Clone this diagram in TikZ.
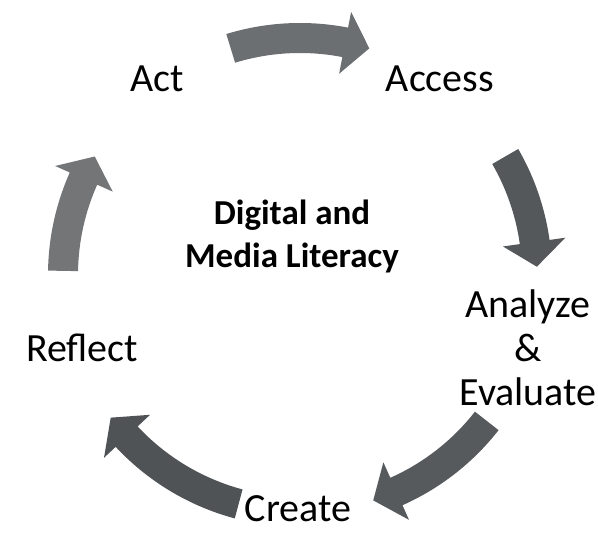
\documentclass[tikz,border=0pt]{standalone}
\usepackage{fontspec}
\setmainfont{Carlito}
\usepackage{tikz}
\usepackage{xcolor}
\definecolor{graytop}{RGB}{108,111,113}
\definecolor{grayright}{RGB}{84,88,91}
\definecolor{graylow}{RGB}{86,90,93}
\definecolor{grayleft}{RGB}{79,83,86}
\definecolor{grayup}{RGB}{115,117,119}
\tikzset{%
	stage/.style = {font=\fontsize{40}{44}\selectfont, inner sep=0pt, anchor=base, align=center},
	title/.style = {font=\bfseries\fontsize{35}{43}\selectfont, inner sep=0pt, anchor=base, align=center},
	bent/.style  = {draw=none},
}

\begin{document}
\begin{tikzpicture}[x=1pt,y=1pt]
	\useasboundingbox (-300,-258) rectangle (298,275);
	
	\node[title] (dml) at (-8,7) {Digital and\\Media Literacy};
	
	\node[stage] (act) at (-143,183) {Act};
	\node[stage] (access) at (140,183) {Access};
	\node[stage] (analyze) at (228,-130) {Analyze\\\&\\Evaluate};
	\node[stage] (create) at (-2,-246) {Create};
	\node[stage] (reflect) at (-218,-87) {Reflect};
	
	% act -> access
	\fill[bent,fill=graytop] (107:222pt) arc (107:79:222pt) -- (79:205pt) -- (73:237pt) -- (79:268pt) -- (79:252pt) arc (79:107:252pt) -- cycle;
	% access -> analyze
	\fill[bent,fill=grayright] (30:222pt) arc (30:8:222pt) -- (8:205pt) -- (2:237pt) -- (8:268pt) -- (8:252pt) arc (8:30:252pt) -- cycle;
	% analyze -> create
	\fill[bent,fill=graylow] (-38:222pt) arc (-38:-66:222pt) -- (-66:205pt) -- (-72:237pt) -- (-66:268pt) -- (-66:252pt) arc (-66:-38:252pt) -- cycle;
	% create -> reflect
	\fill[bent,fill=grayleft] (-105:222pt) arc (-105:-137:222pt) -- (-137:205pt) -- (-143:237pt) -- (-137:268pt) -- (-137:252pt) arc (-137:-105:252pt) -- cycle;
	% reflect -> act
	\fill[bent,fill=grayup] (179:222pt) arc (179:156:222pt) -- (156:205pt) -- (150:237pt) -- (156:268pt) -- (156:252pt) arc (156:179:252pt) -- cycle;
\end{tikzpicture}
\end{document}
